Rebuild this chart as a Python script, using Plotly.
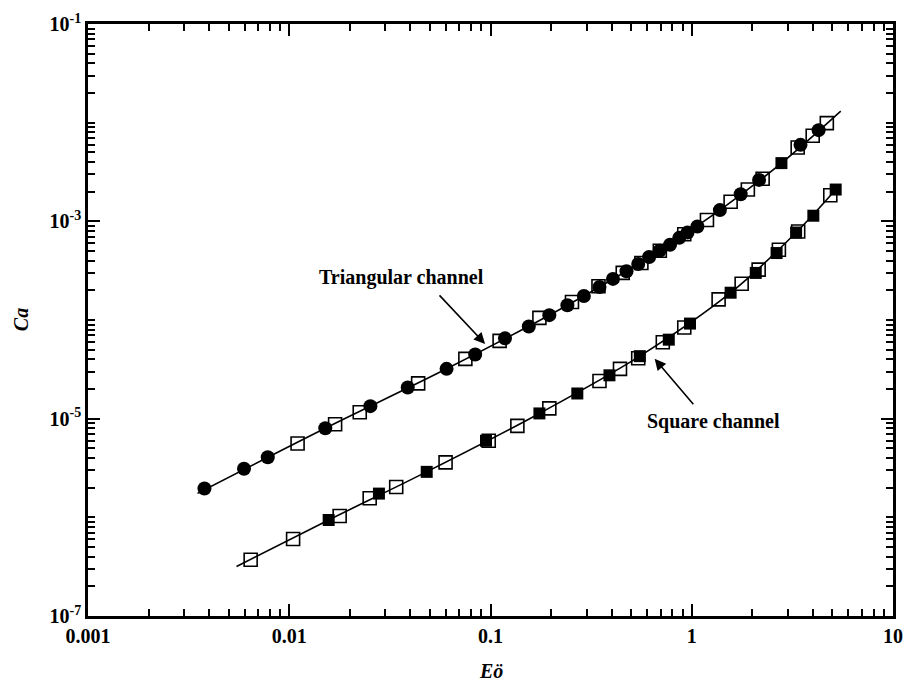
import plotly.graph_objects as go

# ---------------- data ----------------
# Triangular channel
tri_line_x = [0.0035, 0.0151, 0.0605, 0.241, 0.692, 1.38, 2.79, 5.5]
tri_line_y = [1.75e-6, 8.0e-6, 3.2e-5, 1.41e-4, 5.03e-4, 1.3e-3, 3.89e-3, 1.31e-2]

tri_circle_x = [0.00379, 0.00596, 0.00782, 0.0151, 0.0253, 0.0388, 0.0605, 0.0839, 0.118, 0.155,
                0.196, 0.241, 0.291, 0.348, 0.406, 0.474, 0.542, 0.614, 0.692, 0.78,
                0.867, 0.953, 1.067, 1.38, 1.75, 2.16, 3.47, 4.27]
tri_circle_y = [1.96e-6, 3.11e-6, 4.06e-6, 8.0e-6, 1.34e-5, 2.07e-5, 3.2e-5, 4.47e-5, 6.52e-5, 8.6e-5,
                1.12e-4, 1.41e-4, 1.75e-4, 2.16e-4, 2.61e-4, 3.12e-4, 3.7e-4, 4.35e-4, 5.03e-4, 5.78e-4,
                6.8e-4, 7.7e-4, 8.85e-4, 1.3e-3, 1.88e-3, 2.63e-3, 5.96e-3, 8.4e-3]

tri_open_x = [0.011, 0.0169, 0.0224, 0.0437, 0.075, 0.111, 0.175, 0.254, 0.344, 0.454,
              0.562, 0.694, 0.918, 1.19, 1.56, 1.9, 2.25, 3.36, 3.99, 4.69]
tri_open_y = [5.61e-6, 8.77e-6, 1.16e-5, 2.28e-5, 4.04e-5, 6.15e-5, 1.05e-4, 1.52e-4, 2.2e-4, 3.0e-4,
              3.78e-4, 5.03e-4, 7.4e-4, 1.03e-3, 1.58e-3, 2.1e-3, 2.7e-3, 5.61e-3, 7.37e-3, 9.9e-3]

tri_fsq_x = [2.79]
tri_fsq_y = [3.89e-3]

# Square channel
sq_line_x = [0.00547, 0.0157, 0.0481, 0.175, 0.552, 1.56, 3.3, 5.3]
sq_line_y = [3.18e-7, 9.4e-7, 2.89e-6, 1.13e-5, 4.3e-5, 1.89e-4, 7.7e-4, 2.2e-3]

sq_filled_x = [0.0157, 0.0279, 0.0482, 0.095, 0.175, 0.27, 0.39, 0.552, 0.769, 0.98,
               1.56, 2.08, 2.64, 3.3, 4.02, 5.19]
sq_filled_y = [9.4e-7, 1.74e-6, 2.89e-6, 5.97e-6, 1.13e-5, 1.8e-5, 2.75e-5, 4.3e-5, 6.32e-5, 9.2e-5,
               1.89e-4, 3.0e-4, 4.77e-4, 7.7e-4, 1.14e-3, 2.1e-3]

sq_open_x = [0.00643, 0.01045, 0.0178, 0.0251, 0.034, 0.0598, 0.098, 0.136, 0.196, 0.348,
             0.44, 0.542, 0.718, 0.918, 1.36, 1.77, 2.15, 2.71, 3.38, 4.88]
sq_open_y = [3.72e-7, 6.04e-7, 1.03e-6, 1.56e-6, 2.03e-6, 3.61e-6, 5.97e-6, 8.45e-6, 1.27e-5, 2.41e-5,
             3.2e-5, 4.1e-5, 5.94e-5, 8.4e-5, 1.62e-4, 2.33e-4, 3.24e-4, 5.15e-4, 7.9e-4, 1.84e-3]

# Ticks
x_tickvals = [0.001, 0.01, 0.1, 1, 10]
x_ticktext = ["0.001", "0.01", "0.1", "1", "10"]
y_tickvals = [1e-7, 1e-5, 1e-3, 1e-1]
y_ticktext = ["10<sup>-7</sup>", "10<sup>-5</sup>", "10<sup>-3</sup>", "10<sup>-1</sup>"]
x_minor = [m * 10.0 ** e for e in range(-3, 1) for m in range(2, 10)]
y_minor = [m * 10.0 ** e for e in range(-7, -1) for m in range(1, 10)
           if not (m == 1 and e in (-7, -5, -3))]

FONT = "Liberation Serif, Times New Roman, serif"

fig = go.Figure()

line_style = dict(color="black", width=1.6)
fig.add_trace(go.Scatter(x=tri_line_x, y=tri_line_y, mode="lines",
                         line=dict(shape="spline", **line_style), showlegend=False))
fig.add_trace(go.Scatter(x=sq_line_x, y=sq_line_y, mode="lines",
                         line=dict(shape="spline", **line_style), showlegend=False))

open_marker = dict(symbol="square-open", size=13, color="black", line=dict(width=1.6, color="black"))
fig.add_trace(go.Scatter(x=tri_open_x, y=tri_open_y, mode="markers", marker=open_marker, showlegend=False))
fig.add_trace(go.Scatter(x=sq_open_x, y=sq_open_y, mode="markers", marker=open_marker, showlegend=False))

fig.add_trace(go.Scatter(x=tri_circle_x, y=tri_circle_y, mode="markers",
                         marker=dict(symbol="circle", size=14, color="black"), showlegend=False))
fig.add_trace(go.Scatter(x=tri_fsq_x, y=tri_fsq_y, mode="markers",
                         marker=dict(symbol="square", size=12, color="black"), showlegend=False))
fig.add_trace(go.Scatter(x=sq_filled_x, y=sq_filled_y, mode="markers",
                         marker=dict(symbol="square", size=12, color="black"), showlegend=False))

axis_common = dict(
    type="log", showline=True, linecolor="black", linewidth=2.5, mirror="ticks",
    ticks="inside", ticklen=12, tickwidth=1.8, tickcolor="black",
    showgrid=False, zeroline=False,
    tickfont=dict(family=FONT, size=20, color="black", weight="bold"),
)

fig.update_xaxes(range=[-3, 1], tickmode="array", tickvals=x_tickvals, ticktext=x_ticktext,
                 minor=dict(tickmode="array", tickvals=x_minor, ticks="inside", ticklen=7,
                            tickwidth=1.5, tickcolor="black", showgrid=False),
                 **axis_common)
fig.update_yaxes(range=[-7, -1], tickmode="array", tickvals=y_tickvals, ticktext=y_ticktext,
                 minor=dict(tickmode="array", tickvals=y_minor, ticks="inside", ticklen=7,
                            tickwidth=1.5, tickcolor="black", showgrid=False),
                 **axis_common)

ann_font = dict(family=FONT, size=20, color="black", weight="bold")
fig.update_layout(
    width=914, height=681,
    margin=dict(l=88, r=11, t=19, b=65),
    paper_bgcolor="white", plot_bgcolor="white",
    annotations=[
        dict(text="<i>Eö</i>", xref="paper", yref="paper", x=0.5, y=-0.093,
             showarrow=False, font=ann_font, xanchor="center", yanchor="middle"),
        dict(text="<i>Ca</i>", xref="paper", yref="paper", x=-0.083, y=0.5, textangle=-90,
             showarrow=False, font=ann_font, xanchor="center", yanchor="middle"),
        dict(text="Triangular channel", xref="paper", yref="paper", x=0.389, y=0.571,
             showarrow=False, font=ann_font, xanchor="center", yanchor="middle"),
        dict(text="", xref="paper", yref="paper", x=0.4933, y=0.4596, ax=-47, ay=-50,
             showarrow=True, arrowhead=2, arrowsize=1.4, arrowwidth=1.6, arrowcolor="black",
             standoff=0),
        dict(text="Square channel", xref="paper", yref="paper", x=0.7775, y=0.3283,
             showarrow=False, font=ann_font, xanchor="center", yanchor="middle"),
        dict(text="", xref="paper", yref="paper", x=0.7039, y=0.4344, ax=40, ay=47,
             showarrow=True, arrowhead=2, arrowsize=1.4, arrowwidth=1.6, arrowcolor="black",
             standoff=0),
    ],
)

fig.write_html("out.html", config={"displayModeBar": False},
               post_script="document.body.style.margin='0';")
